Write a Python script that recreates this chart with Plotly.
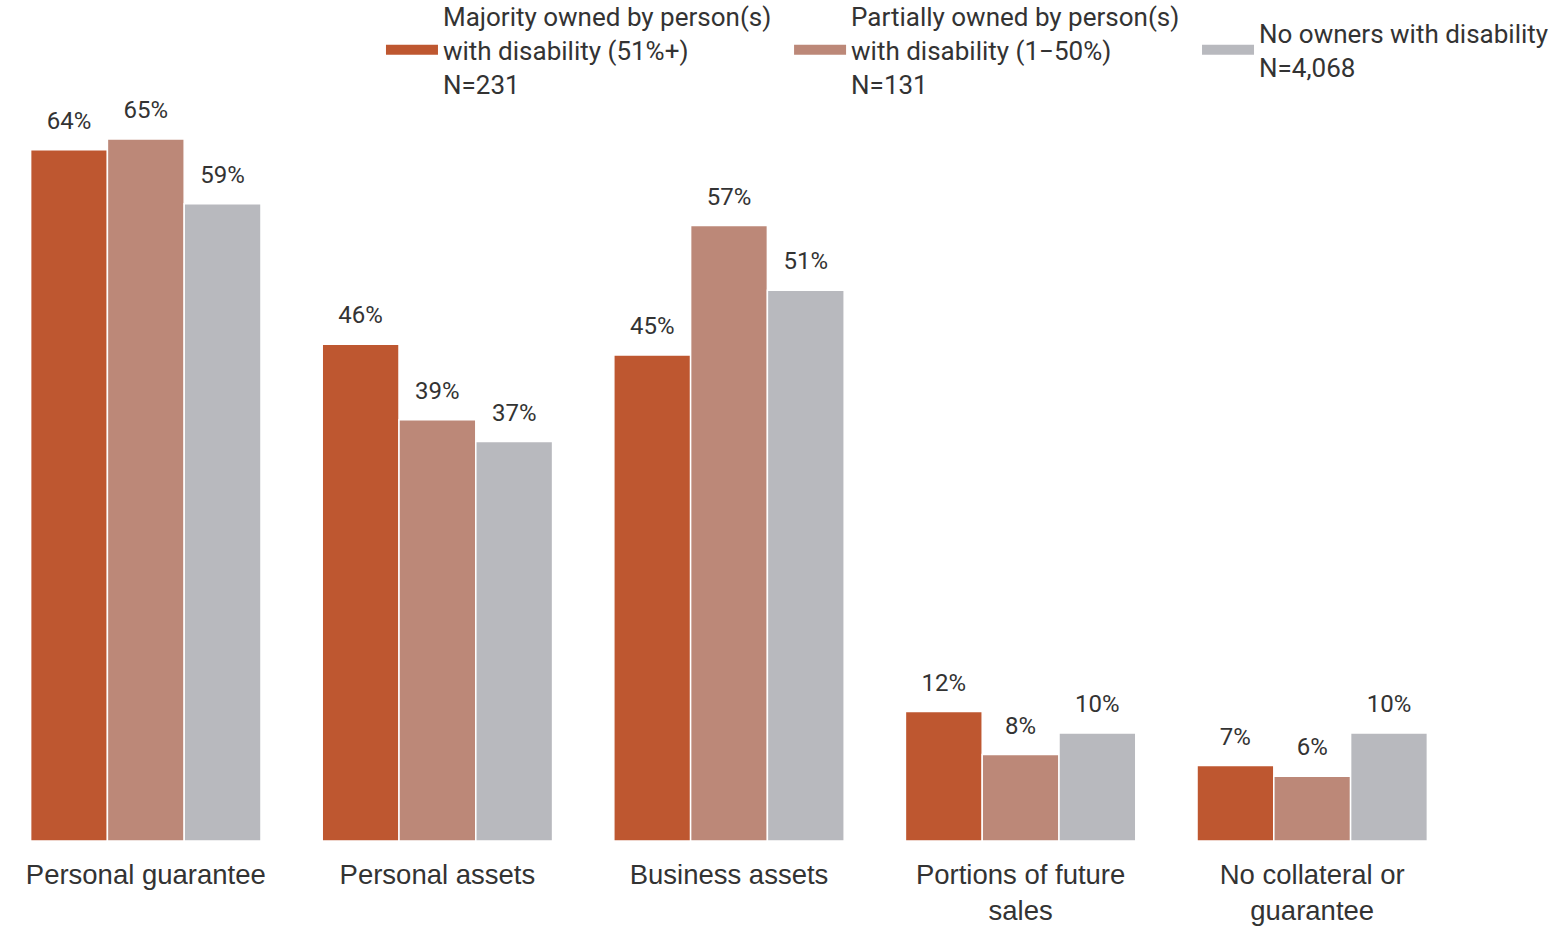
import plotly.graph_objs as go

categories = ['Personal guarantee', 'Personal assets', 'Business assets',
              'Portions of future<br>sales', 'No collateral or<br>guarantee']

majority = [64, 46, 45, 12, 7]
partial = [65, 39, 57, 8, 6]
no_owner = [59, 37, 51, 10, 10]

series_names = [
    'Majority owned by person(s)<br>with disability (51%+)<br>N=231',
    'Partially owned by person(s)<br>with disability (1\u221250%)<br>N=131',
    'No owners with disability<br>N=4,068',
]
colors = ['#BE5730', '#BC8878', '#B8B9BE']
all_vals = [majority, partial, no_owner]
legend_ids = ['legend', 'legend2', 'legend3']
legend_x = [0.2613, 0.5412, 0.821]

fig = go.Figure()
for name, vals, col in zip(series_names, all_vals, colors):
    fig.add_trace(go.Bar(
        name=name, x=categories, y=vals, offsetgroup=name, showlegend=False,
        marker=dict(color=col, line=dict(color='white', width=1.5)),
    ))
# value labels, placed above bars via grouped scatter
for name, vals in zip(series_names, all_vals):
    fig.add_trace(go.Scatter(
        x=categories, y=vals, offsetgroup=name, mode='markers+text',
        text=[f'{v}%' for v in vals], textposition='top center',
        textfont=dict(family='Roboto', size=24, color='#333333'),
        marker=dict(size=22, opacity=0), showlegend=False, hoverinfo='skip',
    ))
# legend swatches (wide rectangles), one legend per entry so each is centred
for name, col, lid in zip(series_names, colors, legend_ids):
    fig.add_trace(go.Scatter(
        x=[None], y=[None], mode='lines', name=name, legend=lid,
        line=dict(color=col, width=12),
    ))

legend_style = dict(
    orientation='h', xanchor='left', y=1.0463, yanchor='middle',
    font=dict(family='Roboto', size=26, color='#333333'),
    valign='middle', itemwidth=52, bgcolor='rgba(0,0,0,0)',
)

fig.update_layout(
    width=1568, height=926,
    barmode='group', bargap=0.21, bargroupgap=0,
    scattermode='group', scattergap=0.21,
    plot_bgcolor='white', paper_bgcolor='white',
    margin=dict(l=0, r=110, t=85, b=85, autoexpand=False),
    font=dict(family='Roboto', color='#333333'),
    legend=dict(x=legend_x[0], **legend_style),
    legend2=dict(x=legend_x[1], **legend_style),
    legend3=dict(x=legend_x[2], **legend_style),
    xaxis=dict(
        range=[-0.5, 4.5],
        showline=False, showgrid=False, ticks='outside', ticklen=9,
        tickcolor='rgba(0,0,0,0)',
        tickfont=dict(family='Arial, Liberation Sans', size=27.5, color='#333333'),
    ),
    yaxis=dict(range=[0, 70], visible=False),
)

fig.write_html('out.html', config={'displayModeBar': False},
               post_script="document.body.style.margin='0px';")
